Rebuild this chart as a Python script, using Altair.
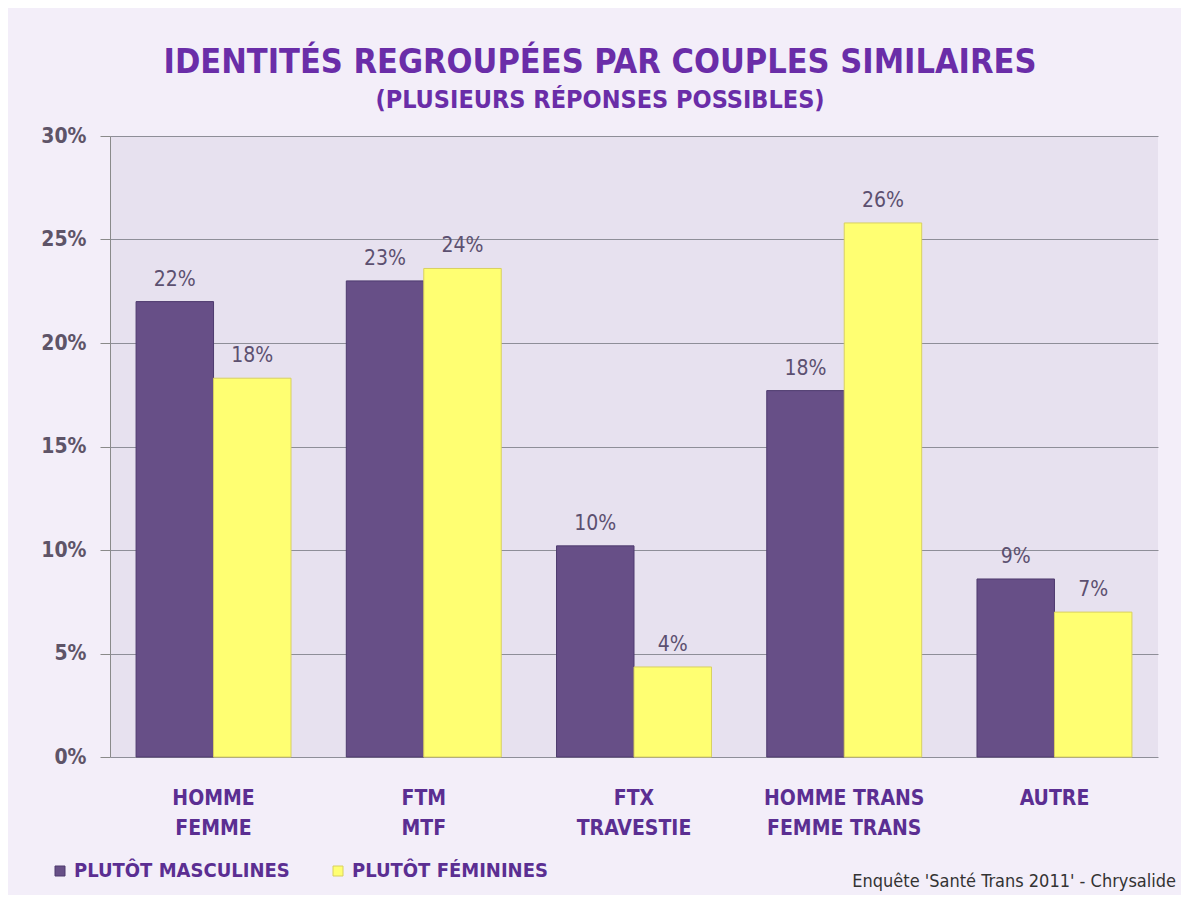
import altair as alt
import pandas as pd

categories = ["HOMME\nFEMME", "FTM\nMTF", "FTX\nTRAVESTIE", "HOMME TRANS\nFEMME TRANS", "AUTRE"]
series = ["PLUTÔT MASCULINES", "PLUTÔT FÉMININES"]
masculines = [22.0, 23.0, 10.2, 17.7, 8.6]
feminines = [18.3, 23.6, 4.35, 25.8, 7.0]
labels_m = ["22%", "23%", "10%", "18%", "9%"]
labels_f = ["18%", "24%", "4%", "26%", "7%"]
y_ticks = [0, 5, 10, 15, 20, 25, 30]

rows = []
for i, c in enumerate(categories):
    rows.append({"cat": c, "serie": series[0], "val": masculines[i], "lab": labels_m[i]})
    rows.append({"cat": c, "serie": series[1], "val": feminines[i], "lab": labels_f[i]})
df = pd.DataFrame(rows)

PURPLE = "#674F87"
YELLOW = "#FFFF72"
TEXT = "#5C5070"
LABEL_PURPLE = "#5B2E92"
FONT = "Liberation Sans Narrow, DejaVu Sans Condensed, sans-serif"

x = alt.X("cat:N", sort=categories, title=None,
          scale=alt.Scale(paddingInner=0.263, paddingOuter=0.124),
          axis=alt.Axis(labelExpr="split(datum.label, '\\n')", labelAngle=0,
                        labelFont=FONT, labelFontSize=21, labelFontWeight="bold",
                        labelColor=LABEL_PURPLE, labelPadding=30, labelLineHeight=30,
                        ticks=False, domain=False))
xo = alt.XOffset("serie:N", sort=series)

bars = alt.Chart(df).mark_bar(strokeWidth=1).encode(
    x=x, xOffset=xo,
    y=alt.Y("val:Q", title=None,
            scale=alt.Scale(domain=[0, 30], nice=False),
            axis=alt.Axis(values=y_ticks, labelExpr="datum.value + '%'",
                          labelFont=FONT, labelFontSize=21, labelFontWeight="bold",
                          labelColor="#5E5468", labelPadding=14, tickSize=10,
                          tickColor="#8A8A8A", domainColor="#8A8A8A",
                          gridColor="#8E8E98", gridWidth=1)),
    color=alt.Color("serie:N", sort=series,
                    scale=alt.Scale(domain=series, range=[PURPLE, YELLOW]),
                    legend=alt.Legend(title=None, orient="none", direction="horizontal",
                                      legendX=-60, legendY=725, symbolType="square",
                                      symbolSize=100, symbolStrokeColor="#7A6A30",
                                      symbolStrokeWidth=1,
                                      labelFont=FONT, labelFontSize=20, labelFontWeight="bold",
                                      labelColor=LABEL_PURPLE, columnPadding=38,
                                      labelOffset=4, labelLimit=400)),
    stroke=alt.Stroke("serie:N", sort=series,
                      scale=alt.Scale(domain=series, range=["#4E3A6E", "#D8D060"]),
                      legend=None),
)

text = alt.Chart(df).mark_text(dy=-22, font=FONT, fontSize=21, color=TEXT).encode(
    x=x, xOffset=xo, y="val:Q", text="lab:N")

source = alt.Chart(pd.DataFrame({"t": ["Enquête 'Santé Trans 2011' - Chrysalide"]})).mark_text(
    align="right", baseline="middle", font=FONT, fontSize=18, color="#333333"
).encode(x=alt.value(1066), y=alt.value(746), text="t:N")

chart = alt.layer(bars, text, source).properties(
    width=1048, height=621,
    background="#F3EEF9",
    padding={"left": 102, "top": 128, "right": 23, "bottom": 138},
    autosize=alt.AutoSizeParams(type="none"),
    title=alt.TitleParams(
        text="IDENTITÉS REGROUPÉES PAR COUPLES SIMILAIRES",
        subtitle="(PLUSIEURS RÉPONSES POSSIBLES)",
        anchor="middle", dx=-34, offset=12,
        font=FONT, fontSize=34, fontWeight="bold", color="#6A2DA8",
        subtitleFont=FONT, subtitleFontSize=25, subtitleFontWeight="bold",
        subtitleColor="#6A2DA8", subtitlePadding=8,
    ),
).configure_view(fill="#E7E1EF", stroke=None)

chart.save("out.html", embed_options={"renderer": "svg", "actions": False})
